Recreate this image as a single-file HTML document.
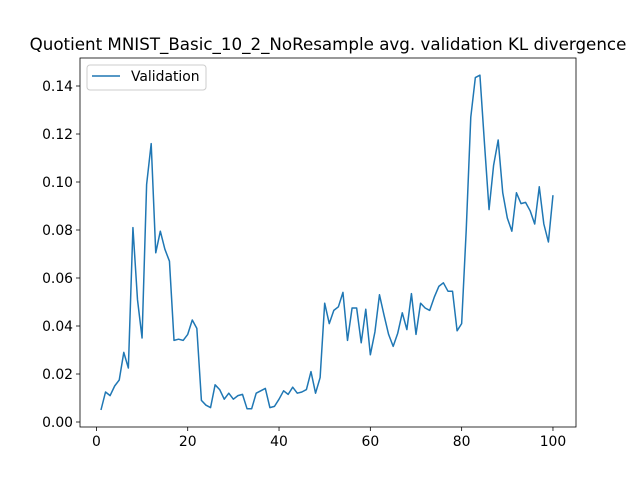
<!DOCTYPE html>
<html><head><meta charset="utf-8"><style>body{margin:0;background:#fff}svg{display:block;font-family:"DejaVu Sans","Liberation Sans",sans-serif}</style></head>
<body>
<svg id="chart" width="640" height="480" xmlns="http://www.w3.org/2000/svg"></svg>
<script>
const xTicks=[0,20,40,60,80,100];
const yTicks=[0.00,0.02,0.04,0.06,0.08,0.10,0.12,0.14];
const yTickLabels=["0.00","0.02","0.04","0.06","0.08","0.10","0.12","0.14"];
const validation=[0.005,0.0125,0.011,0.015,0.0175,0.029,0.0225,0.081,0.051,0.035,0.099,0.116,0.0705,0.0795,0.072,0.067,0.034,0.0345,0.034,0.0365,0.0425,0.039,0.009,0.007,0.006,0.0155,0.0135,0.0095,0.012,0.0095,0.011,0.0115,0.0055,0.0055,0.012,0.013,0.014,0.006,0.0065,0.0095,0.013,0.0115,0.0145,0.012,0.0125,0.0135,0.021,0.012,0.0185,0.0495,0.041,0.0465,0.048,0.054,0.034,0.0475,0.0475,0.033,0.047,0.028,0.0375,0.053,0.0445,0.0365,0.0315,0.037,0.0455,0.0385,0.0535,0.0365,0.0495,0.0475,0.0465,0.052,0.0565,0.058,0.0545,0.0545,0.038,0.041,0.08,0.127,0.1435,0.1445,0.116,0.0885,0.107,0.1175,0.0955,0.085,0.0795,0.0955,0.091,0.0915,0.088,0.0825,0.098,0.0825,0.075,0.0945];
const NS="http://www.w3.org/2000/svg";
const svg=document.getElementById('chart');
const L=80,R=576,T=58,B=427;
const xs=v=>96.4+(v)*(553-101)/99;
const ys=v=>422-v*2400;
function mk(t,a,p){const e=document.createElementNS(NS,t);for(const k in a)e.setAttribute(k,a[k]);(p||svg).appendChild(e);return e;}
const title=mk('text',{x:328,y:50,'text-anchor':'middle','font-size':'16.7'});
title.textContent='Quotient MNIST_Basic_10_2_NoResample avg. validation KL divergence';


xTicks.forEach(v=>{
  const tk=mk('line',{x1:xs(v),x2:xs(v),y1:B,y2:B+4,stroke:'#000','stroke-width':0.8});
  
  
  const t=mk('text',{x:xs(v),y:B+19,'text-anchor':'middle','font-size':'13.9'});
  t.textContent=String(v);
  
  
});
yTicks.forEach((v,i)=>{
  const tk=mk('line',{x1:L-4,x2:L,y1:ys(v),y2:ys(v),stroke:'#000','stroke-width':0.8});
  
  
  const t=mk('text',{x:L-7,y:ys(v)+5,'text-anchor':'end','font-size':'13.9'});
  t.textContent=yTickLabels[i];
  
  
});
const pts=validation.map((v,i)=>xs(i+1).toFixed(2)+','+ys(v).toFixed(2)).join(' ');
const line=mk('polyline',{points:pts,fill:'none',stroke:'#1f77b4','stroke-width':1.5,'stroke-linejoin':'round'});


const frame=mk('rect',{x:L,y:T,width:R-L,height:B-T,fill:'none',stroke:'#000','stroke-width':0.8});


const lg=mk('g',{});


mk('rect',{x:87,y:65,width:119,height:25,rx:3,fill:'#fff',stroke:'#ccc','stroke-width':1},lg);
const ll=mk('line',{x1:92,x2:120,y1:76,y2:76,stroke:'#1f77b4','stroke-width':1.5},lg);


const lt=mk('text',{x:131,y:81,'font-size':'13.9'},lg);
lt.textContent='Validation';


</script>
</body></html>
